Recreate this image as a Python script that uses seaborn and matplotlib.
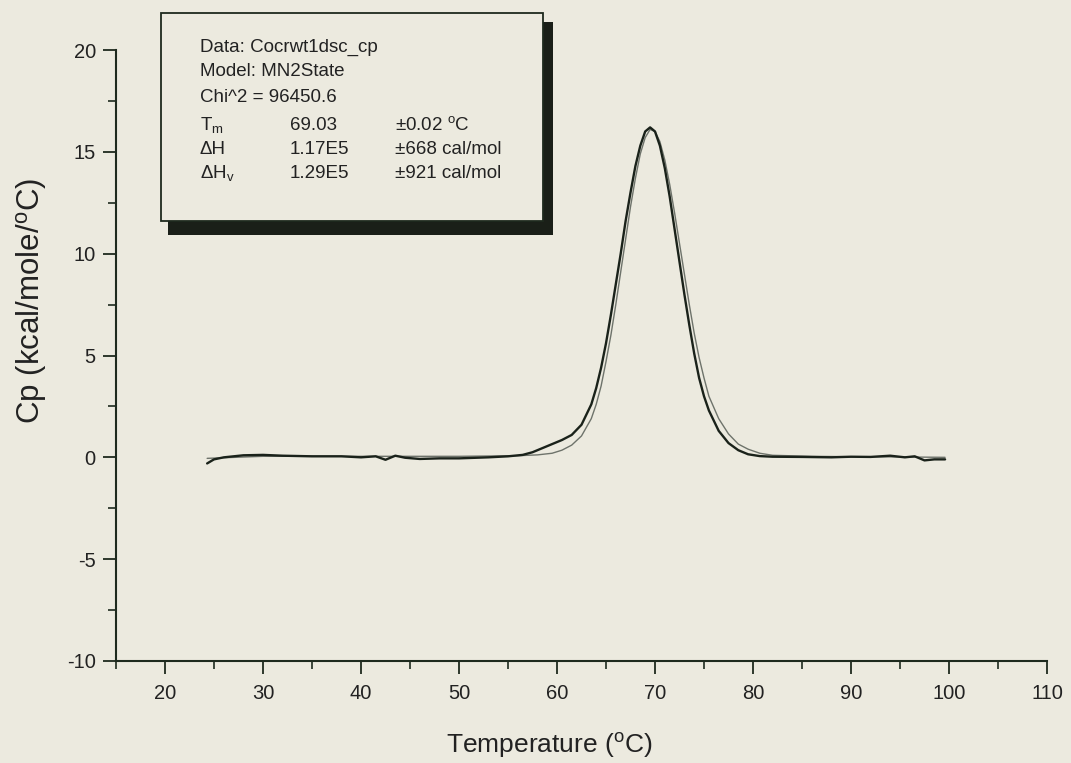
"""DSC thermogram: Cp vs temperature with MN2State fit and parameter box."""
import matplotlib
matplotlib.use("Agg")
import matplotlib.pyplot as plt
from matplotlib.patches import Rectangle
from matplotlib.ticker import MultipleLocator
import pandas as pd
import seaborn as sns

# -- Data ----------------------------------------------------------------------
temp_exp = [24.3, 25, 26, 28, 30, 32, 35, 38, 40, 41.5, 42.5, 43.5, 44.5, 46, 48,
            50, 53, 55, 56.5, 57.5, 58.5, 59.5, 60.5, 61.5, 62.5, 63.5, 64.0, 64.5,
            65.0, 65.5, 66.0, 66.5, 67.0, 67.5, 68.0, 68.5, 69.0, 69.5, 70.0, 70.5,
            71.0, 71.5, 72.0, 72.5, 73.0, 73.5, 74.0, 74.5, 75.0, 75.5, 76.5, 77.5,
            78.5, 79.5, 80.7, 82, 85, 88, 90, 92, 94, 95.5, 96.5, 97.5, 98.5, 99.6]
cp_exp = [-0.3, -0.1, 0.0, 0.1, 0.12, 0.08, 0.05, 0.05, 0.0, 0.05, -0.12, 0.08, -0.02,
          -0.08, -0.05, -0.05, 0.0, 0.05, 0.12, 0.25, 0.45, 0.65, 0.85, 1.1, 1.6, 2.6,
          3.4, 4.4, 5.6, 7.0, 8.5, 10.0, 11.6, 13.0, 14.3, 15.3, 16.0, 16.2, 16.0,
          15.3, 14.2, 12.8, 11.2, 9.6, 8.0, 6.5, 5.1, 3.9, 3.0, 2.3, 1.3, 0.7, 0.35,
          0.15, 0.06, 0.03, 0.02, 0.0, 0.03, 0.02, 0.08, 0.0, 0.05, -0.15, -0.1, -0.1]

temp_fit = [24.3, 30, 40, 50, 56, 58, 59.5, 60.5, 61.5, 62.5, 63.5, 64.0, 64.5, 65.0,
            65.5, 66.0, 66.5, 67.0, 67.5, 68.0, 68.5, 69.0, 69.5, 70.0, 70.5, 71.0,
            71.5, 72.0, 72.5, 73.0, 73.5, 74.0, 74.5, 75.0, 75.5, 76.5, 77.5, 78.5,
            79.5, 80.7, 82, 86, 90, 95, 99.6]
cp_fit = [-0.05, 0.05, 0.05, 0.05, 0.08, 0.12, 0.2, 0.35, 0.6, 1.05, 1.9, 2.6, 3.5,
          4.7, 6.0, 7.5, 9.1, 10.7, 12.3, 13.7, 14.9, 15.7, 16.1, 16.0, 15.5, 14.6,
          13.4, 12.0, 10.5, 9.0, 7.5, 6.1, 4.9, 3.9, 3.0, 1.9, 1.15, 0.65, 0.4, 0.2,
          0.1, 0.05, 0.03, 0.02, 0.0]

info_lines = ["Data: Cocrwt1dsc_cp", "Model: MN2State", "Chi^2 = 96450.6"]
param_names = [r"T$_{\rm m}$", "ΔH", r"ΔH$_{\rm v}$"]
param_values = ["69.03", "1.17E5", "1.29E5"]
param_errors = [r"±0.02 $^{\rm o}$C", "±668 cal/mol", "±921 cal/mol"]

x_ticks = [20, 30, 40, 50, 60, 70, 80, 90, 100, 110]
y_ticks = [-10, -5, 0, 5, 10, 15, 20]

# -- Style ---------------------------------------------------------------------
BG = "#ECEADF"
INK = "#1E2A1E"
TXT = "#222222"
W, H, DPI = 1071, 763, 100

sns.set_theme(style="ticks")
plt.rcParams["font.family"] = ["Liberation Sans", "DejaVu Sans"]
plt.rcParams["mathtext.fontset"] = "custom"
plt.rcParams["mathtext.rm"] = "Liberation Sans"
plt.rcParams["mathtext.it"] = "Liberation Sans:italic"
plt.rcParams["axes.unicode_minus"] = False

fig = plt.figure(figsize=(W / DPI, H / DPI), dpi=DPI, facecolor=BG)
ax = fig.add_axes([116 / W, 1 - 661 / H, (1047 - 116) / W, (661 - 50) / H])
ax.set_facecolor(BG)

exp_df = pd.DataFrame({"T": temp_exp, "Cp": cp_exp})
fit_df = pd.DataFrame({"T": temp_fit, "Cp": cp_fit})
sns.lineplot(data=fit_df, x="T", y="Cp", ax=ax, color="#6E736B", linewidth=1.0)
sns.lineplot(data=exp_df, x="T", y="Cp", ax=ax, color="#1A221A", linewidth=1.7)

ax.set_xlim(15, 110)
ax.set_ylim(-10, 20)
ax.set_xticks(x_ticks)
ax.set_yticks(y_ticks)
ax.xaxis.set_minor_locator(MultipleLocator(5))
ax.yaxis.set_minor_locator(MultipleLocator(2.5))
sns.despine(ax=ax)
for side in ("left", "bottom"):
    ax.spines[side].set_color(INK)
    ax.spines[side].set_linewidth(1.5)
ax.tick_params(which="major", length=9.5, width=1.3, color=INK, direction="out",
               labelsize=14.5, labelcolor=TXT, pad=5)
ax.tick_params(which="minor", length=5.5, width=1.2, color=INK, direction="out")
ax.tick_params(axis="x", which="major", pad=7)

ax.set_xlabel(r"Temperature ($^{\rm o}$C)", fontsize=19, color=TXT)
ax.set_ylabel(r"Cp (kcal/mole/$^{\rm o}$C)", fontsize=22.5, color=TXT)
ax.xaxis.set_label_coords(0.465, -0.115)
ax.yaxis.set_label_coords(-0.072, 0.59)

# -- Parameter box with drop shadow (figure pixel coordinates) ------------------
def fig_rect(x0, y0, x1, y1, **kw):
    return Rectangle((x0 / W, 1 - y1 / H), (x1 - x0) / W, (y1 - y0) / H,
                     transform=fig.transFigure, **kw)


fig.patches.append(fig_rect(168, 22, 553, 235, facecolor="#1A1F18", edgecolor="none"))
fig.patches.append(fig_rect(161, 13, 543, 221, facecolor=BG, edgecolor=INK,
                            linewidth=1.3))

row_y = [47, 72, 97, 125, 150, 173]
for text, py in zip(info_lines, row_y[:3]):
    fig.text(200 / W, 1 - py / H, text, fontsize=13.5, color=TXT, va="center")
for name, val, err, py in zip(param_names, param_values, param_errors, row_y[3:]):
    fig.text(200 / W, 1 - py / H, name, fontsize=13.5, color=TXT, va="center")
    fig.text(290 / W, 1 - py / H, val, fontsize=13.5, color=TXT, va="center")
    fig.text(395 / W, 1 - py / H, err, fontsize=13.5, color=TXT, va="center")

fig.savefig("out.png", dpi=DPI, facecolor=BG)
